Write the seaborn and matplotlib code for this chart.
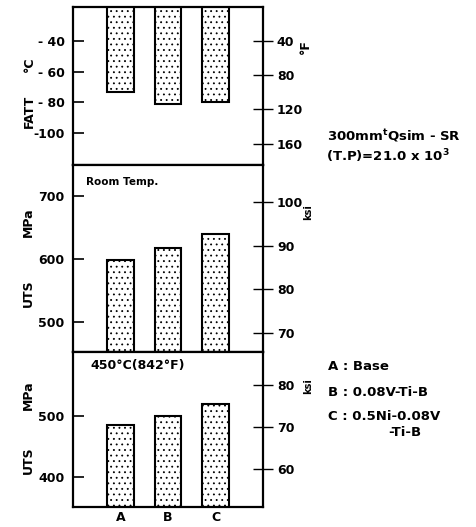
import matplotlib
matplotlib.use("Agg")
import matplotlib.pyplot as plt
import seaborn as sns
import pandas as pd

# steels and values
steels = ["A", "B", "C"]
fatt_c = [-73, -81, -80]           # FATT, deg C
uts_room = [598, 617, 640]         # UTS at room temp, MPa
uts_450 = [485, 500, 519]          # UTS at 450 C, MPa

fatt_ticks = [-40, -60, -80, -100]
fatt_labels = ["- 40", "- 60", "- 80", "-100"]
f_ticks = [-40, -80, -120, -160]
f_labels = ["40", "80", "120", "160"]
room_ticks = [500, 600, 700]
ksi_room = [70, 80, 90, 100]
hot_ticks = [400, 500]
ksi_hot = [60, 70, 80]

notes = ["A : Base", "B : 0.08V-Ti-B", "C : 0.5Ni-0.08V", "-Ti-B"]

sns.set_style("white")
plt.rcParams["font.family"] = ["DejaVu Sans"]
plt.rcParams["font.weight"] = "bold"
plt.rcParams["hatch.linewidth"] = 0.6
plt.rcParams["hatch.color"] = "black"
for k in ["text.color", "axes.labelcolor", "xtick.color", "ytick.color"]:
    plt.rcParams[k] = "black"

W, H = 477, 527
fig = plt.figure(figsize=(W / 100, H / 100), dpi=100)


def box(top, bottom, left=73, right=263):
    return [left / W, 1 - bottom / H, (right - left) / W, (bottom - top) / H]


def px(x, y):
    return x / W, 1 - y / H


def panel(rect, vals, ylim, ticks, labels):
    ax = fig.add_axes(rect)
    df = pd.DataFrame({"steel": steels, "val": vals})
    sns.barplot(data=df, x="steel", y="val", color="white", width=0.55,
                edgecolor="black", linewidth=1.5, ax=ax)
    for p in ax.patches:
        p.set_hatch("...")
        p.set_facecolor("white")
    ax.set_xlim(-1, 3)
    ax.set_ylim(*ylim)
    ax.set_yticks(ticks)
    ax.set_yticklabels(labels, fontsize=9, fontweight="bold")
    ax.tick_params(axis="y", direction="in", length=8, width=1.2, pad=6, left=True)
    ax.set_xlabel("")
    ax.set_ylabel("")
    for s in ax.spines.values():
        s.set_linewidth(1.6)
        s.set_color("black")
    return ax


def right_axis(ax, lim, ticks, labels):
    tw = ax.twinx()
    tw.set_ylim(*lim)
    tw.set_yticks(ticks)
    tw.set_yticklabels(labels, fontsize=9, fontweight="bold")
    tw.tick_params(axis="y", direction="inout", length=14, width=1.0, pad=3, right=True)
    for s in tw.spines.values():
        s.set_visible(False)
    return tw


# FATT panel
ax1 = panel(box(7, 165), fatt_c, (-120.6, -18), fatt_ticks, fatt_labels)
ax1.set_xticks([])
c2f = lambda c: c * 9 / 5 + 32
right_axis(ax1, (c2f(-120.6), c2f(-18)), f_ticks, f_labels)

# room temp panel
ax2 = panel(box(165, 352), uts_room, (452, 749), room_ticks, [str(t) for t in room_ticks])
ax2.set_xticks([])
right_axis(ax2, (452 / 6.895, 749 / 6.895), ksi_room, [str(t) for t in ksi_room])

# 450 C panel
ax3 = panel(box(352, 507), uts_450, (351, 605), hot_ticks, [str(t) for t in hot_ticks])
ax3.set_xticks([0, 1, 2])
ax3.set_xticklabels(steels, fontsize=9, fontweight="bold")
ax3.tick_params(axis="x", length=0, pad=3)
right_axis(ax3, (351 / 6.895, 605 / 6.895), ksi_hot, [str(t) for t in ksi_hot])

kw = dict(fontsize=9, fontweight="bold", ha="center", va="center")
fig.text(*px(29, 111), "FATT", rotation=90, **kw)
fig.text(*px(29, 64), "°C", rotation=90, **kw)
fig.text(*px(28, 293), "UTS", rotation=90, **kw)
fig.text(*px(28, 222), "MPa", rotation=90, **kw)
fig.text(*px(28, 460), "UTS", rotation=90, **kw)
fig.text(*px(28, 395), "MPa", rotation=90, **kw)
fig.text(*px(305, 47), "°F", rotation=90, **kw)
fig.text(*px(308, 212), "ksi", rotation=90, fontsize=7, fontweight="bold", ha="center", va="center")
fig.text(*px(308, 386), "ksi", rotation=90, fontsize=7, fontweight="bold", ha="center", va="center")

fig.text(*px(86, 182), "Room Temp.", fontsize=7.5, fontweight="bold", va="center")
fig.text(*px(90, 366), "450°C(842°F)", fontsize=9, fontweight="bold", va="center")

fig.text(*px(327, 136), "300mm$^{\\mathbf{t}}$Qsim - SR", fontsize=9.5, fontweight="bold", va="center")
fig.text(*px(326, 156), "(T.P)=21.0 x 10$^{\\mathbf{3}}$", fontsize=9.5, fontweight="bold", va="center")

fig.text(*px(328, 366), notes[0], fontsize=9.5, fontweight="bold", va="center")
fig.text(*px(328, 392), notes[1], fontsize=9.5, fontweight="bold", va="center")
fig.text(*px(328, 416), notes[2], fontsize=9.5, fontweight="bold", va="center")
fig.text(*px(388, 433), notes[3], fontsize=9.5, fontweight="bold", va="center")

fig.savefig("out.png", dpi=100)
